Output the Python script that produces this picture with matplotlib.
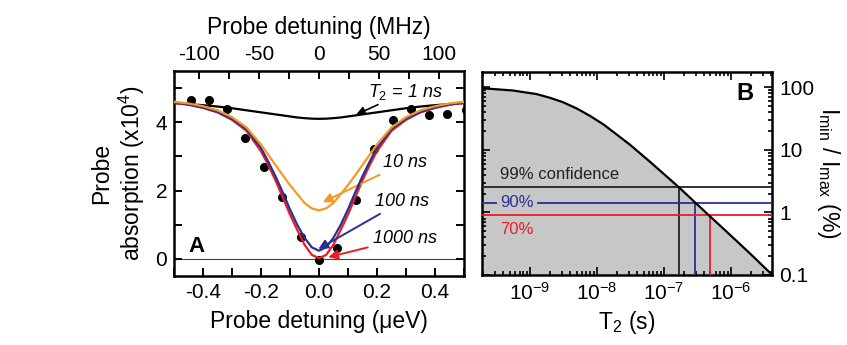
import numpy as np
import matplotlib
matplotlib.use('Agg')
import matplotlib.pyplot as plt
from matplotlib.ticker import MultipleLocator, LogLocator, NullFormatter, FixedLocator, FixedFormatter

plt.rcParams['font.family'] = ['Liberation Sans', 'DejaVu Sans']
plt.rcParams['mathtext.fontset'] = 'custom'
plt.rcParams['mathtext.rm'] = 'Liberation Sans'
plt.rcParams['mathtext.it'] = 'Liberation Sans:italic'
plt.rcParams['axes.unicode_minus'] = False

# ---- panel A data (probe absorption, x1e4) ----
dot_x = [-0.443, -0.380, -0.316, -0.254, -0.190, -0.127, -0.063, 0.0,
         0.063, 0.127, 0.190, 0.254, 0.316, 0.380, 0.443, 0.507]
dot_y = [4.64, 4.66, 4.40, 3.54, 2.69, 1.81, 0.64, -0.02,
         0.32, 1.71, 3.21, 4.07, 4.40, 4.21, 4.24, 4.36]

fit_x = [-0.5, -0.45, -0.4, -0.35, -0.3, -0.25, -0.2, -0.175, -0.15, -0.125,
         -0.1, -0.075, -0.05, -0.025, 0.0, 0.025, 0.05, 0.075, 0.1, 0.125,
         0.15, 0.175, 0.2, 0.25, 0.3, 0.35, 0.4, 0.45, 0.5]
fit_1ns = [4.56, 4.53, 4.50, 4.46, 4.41, 4.35, 4.29, 4.26, 4.23, 4.20,
           4.17, 4.14, 4.12, 4.105, 4.10, 4.105, 4.12, 4.14, 4.17, 4.20,
           4.23, 4.26, 4.29, 4.35, 4.41, 4.46, 4.50, 4.53, 4.56]
fit_10ns = [4.60, 4.55, 4.47, 4.35, 4.15, 3.85, 3.35, 3.05, 2.75, 2.45,
            2.16, 1.90, 1.64, 1.48, 1.42, 1.48, 1.64, 1.90, 2.16, 2.45,
            2.75, 3.05, 3.35, 3.85, 4.15, 4.35, 4.47, 4.55, 4.60]
fit_100ns = [4.58, 4.52, 4.43, 4.30, 4.10, 3.80, 3.25, 2.85, 2.42, 1.95,
             1.45, 1.00, 0.62, 0.34, 0.24, 0.34, 0.62, 1.00, 1.45, 1.95,
             2.42, 2.85, 3.25, 3.80, 4.10, 4.30, 4.43, 4.52, 4.58]
fit_1000ns = [4.57, 4.51, 4.42, 4.29, 4.07, 3.75, 3.15, 2.75, 2.30, 1.80,
              1.30, 0.85, 0.42, 0.12, 0.02, 0.12, 0.42, 0.85, 1.30, 1.80,
              2.30, 2.75, 3.15, 3.75, 4.07, 4.29, 4.42, 4.51, 4.57]

# ---- panel B data (I_min / I_max in %) ----
t2 = [1.9e-10, 5.6e-10, 1.26e-9, 2e-9, 3.1e-9, 5e-9, 7.9e-9, 1.26e-8, 1.75e-8,
      3.1e-8, 6.3e-8, 1.67e-7, 3.2e-7, 4.9e-7, 1e-6, 2e-6, 4.2e-6]
ratio = [97, 89, 78, 68, 58, 46, 35, 25.5, 19.5, 12.2, 6.4, 2.55, 1.33, 0.87,
         0.43, 0.215, 0.1]
conf_levels = ['99% confidence', '90%', '70%']
conf_ratio = [2.55, 1.42, 0.90]
conf_t2 = [1.67e-7, 2.97e-7, 4.9e-7]
conf_colors = ['#222222', '#2b3190', '#ec1c24']

MHZ_PER_UEV = 1 / 0.0041357

orange = '#f39a22'
blue = '#2b3190'
red = '#ec1c24'
gray = '#c6c7c9'

fig = plt.figure(figsize=(8.47, 3.45), dpi=100)
axA = fig.add_axes([0.2054, 0.2, 0.3424, 0.5942])
axB = fig.add_axes([0.5687, 0.2029, 0.3431, 0.5893])

# ---------------- panel A ----------------
axA.axhline(0, color='#444444', lw=0.8, zorder=1)
axA.plot(fit_x, fit_1ns, color='k', lw=1.6, zorder=3)
axA.plot(fit_x, fit_1000ns, color=red, lw=1.6, zorder=3)
axA.plot(fit_x, fit_100ns, color=blue, lw=1.6, zorder=4)
axA.plot(fit_x, fit_10ns, color=orange, lw=1.6, zorder=4)
axA.plot(dot_x, dot_y, 'o', color='k', ms=5.5, zorder=2)

axA.set_xlim(-0.5, 0.5)
axA.set_ylim(-0.5, 5.5)
axA.xaxis.set_major_locator(MultipleLocator(0.2))
axA.xaxis.set_minor_locator(MultipleLocator(0.1))
axA.yaxis.set_major_locator(MultipleLocator(2))
axA.yaxis.set_minor_locator(MultipleLocator(1))
axA.xaxis.set_major_formatter(plt.FuncFormatter(lambda v, p: '%.1f' % v))
axA.tick_params(which='both', direction='in', top=False, right=True, labelsize=15, width=1.4)
axA.tick_params(which='major', length=6, pad=5)
axA.tick_params(which='minor', length=6)
for s in axA.spines.values():
    s.set_linewidth(1.8)
axA.set_xlabel('Probe detuning (\u03bceV)', fontsize=16.5, labelpad=6)
axA.set_ylabel('Probe\nabsorption (x10$^4$)', fontsize=16.5, labelpad=6, linespacing=1.15)

top = axA.secondary_xaxis('top', functions=(lambda v: v * MHZ_PER_UEV,
                                             lambda v: v / MHZ_PER_UEV))
top.xaxis.set_major_locator(MultipleLocator(50))
top.xaxis.set_minor_locator(MultipleLocator(25))
top.tick_params(which='both', direction='in', labelsize=15, width=1.4, length=6, pad=5)
top.set_xlabel('Probe detuning (MHz)', fontsize=16.5, labelpad=8)

axA.text(0.079, 0.146, 'A', transform=axA.transAxes, fontsize=16, fontweight='bold',
         ha='center', va='center')

axA.annotate('$T_2$ = 1 ns', xy=(0.128, 4.22), xytext=(0.17, 4.89), fontsize=13,
             style='italic', va='center', ha='left',
             arrowprops=dict(arrowstyle='-|>', color='k', lw=1.2, mutation_scale=13,
                             shrinkA=0, shrinkB=0))
axA.annotate('10 ns', xy=(0.013, 1.66), xytext=(0.222, 2.83), fontsize=13,
             style='italic', va='center', ha='left',
             arrowprops=dict(arrowstyle='-|>', color=orange, lw=1.4, mutation_scale=14,
                             shrinkA=2, shrinkB=0))
axA.annotate('100 ns', xy=(-0.002, 0.29), xytext=(0.194, 1.69), fontsize=13,
             style='italic', va='center', ha='left',
             arrowprops=dict(arrowstyle='-|>', color=blue, lw=1.4, mutation_scale=14,
                             shrinkA=2, shrinkB=0))
axA.annotate('1000 ns', xy=(0.032, 0.05), xytext=(0.187, 0.61), fontsize=13,
             style='italic', va='center', ha='left',
             arrowprops=dict(arrowstyle='-|>', color=red, lw=1.4, mutation_scale=14,
                             shrinkA=2, shrinkB=0))

# ---------------- panel B ----------------
axB.set_xscale('log')
axB.set_yscale('log')
axB.set_xlim(1.9e-10, 4.2e-6)
axB.set_ylim(0.1, 178)
axB.fill_between(t2, ratio, 0.1, color=gray, lw=0, zorder=1)
axB.plot(t2, ratio, color='k', lw=1.6, zorder=5)

for lab, r, t, c in zip(conf_levels, conf_ratio, conf_t2, conf_colors):
    axB.axhline(r, color=c, lw=1.3, zorder=3)
    axB.plot([t, t], [0.1, r], color=c, lw=1.3, zorder=3)

axB.text(3.6e-10, 4.1, conf_levels[0], color=conf_colors[0], fontsize=12, va='center', ha='left')
axB.text(3.6e-10, conf_ratio[1], conf_levels[1], color=conf_colors[1], fontsize=12,
         va='center', ha='left', zorder=4,
         bbox=dict(facecolor=gray, edgecolor='none', pad=2))
axB.text(3.6e-10, 0.53, conf_levels[2], color=conf_colors[2], fontsize=12, va='center', ha='left')

axB.text(0.906, 0.895, 'B', transform=axB.transAxes, fontsize=17, fontweight='bold',
         ha='center', va='center')

axB.xaxis.set_major_locator(FixedLocator([1e-9, 1e-8, 1e-7, 1e-6]))
axB.xaxis.set_minor_locator(LogLocator(base=10, subs=np.arange(2, 10)))
axB.xaxis.set_minor_formatter(NullFormatter())
axB.yaxis.set_major_locator(FixedLocator([0.1, 1, 10, 100]))
axB.yaxis.set_major_formatter(FixedFormatter(['0.1', '1', '10', '100']))
axB.yaxis.set_minor_locator(LogLocator(base=10, subs=np.arange(2, 10)))
axB.yaxis.set_minor_formatter(NullFormatter())
axB.tick_params(which='both', direction='in', top=True, bottom=True, left=True, right=True,
                labelleft=False, labelright=True, labelsize=15, width=1.2)
axB.tick_params(which='major', length=6, pad=5)
axB.tick_params(which='minor', length=3)
for s in axB.spines.values():
    s.set_linewidth(1.8)
axB.set_xlabel('T$_2$ (s)', fontsize=16.5, labelpad=4)
axB.yaxis.set_label_position('right')
axB.set_ylabel('I$_{\\rm min}$ / I$_{\\rm max}$ (%)', fontsize=16.5, rotation=270, labelpad=20)

fig.savefig('out.png', dpi=100)
